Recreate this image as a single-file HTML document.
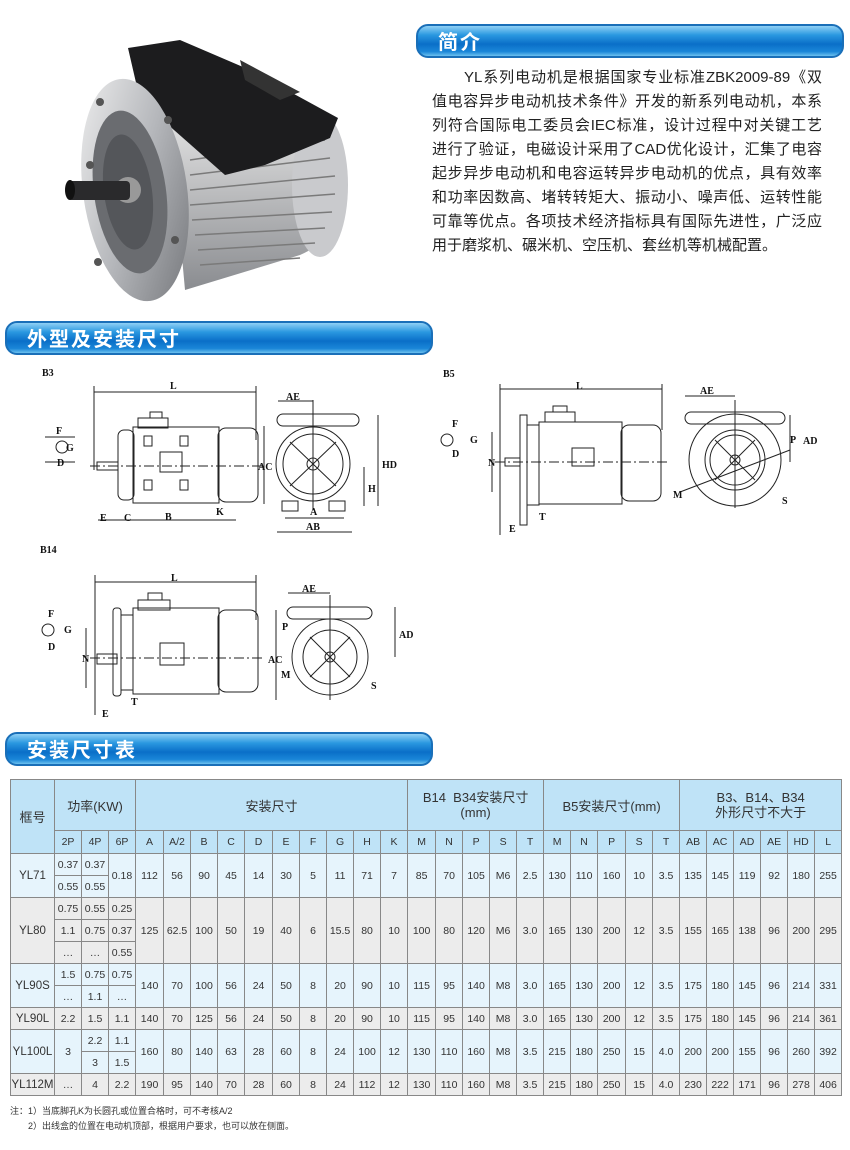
<!DOCTYPE html>
<html><head><meta charset="utf-8">
<style>
*{margin:0;padding:0;box-sizing:border-box}
body{width:850px;height:1150px;background:#fff;position:relative;overflow:hidden;font-family:"Liberation Sans","Noto Sans CJK SC",sans-serif;color:#222}
.bar{position:absolute;height:34px;border-radius:12px;border:2px solid #1a6fb8;background:linear-gradient(#8fd0f5 0%,#2a98e0 30%,#0a6fc8 60%,#1a86d8 85%,#6cc0ee 100%);color:#fff;font-weight:bold;font-size:20px;line-height:30px;padding-left:20px;letter-spacing:2px;font-family:"Noto Sans CJK SC",sans-serif}
.para{position:absolute;left:432px;top:66px;width:390px;font-size:15px;font-family:"Liberation Sans","Noto Sans CJK SC",sans-serif;color:#222}
.para div{height:24px;line-height:24px;text-align:justify;text-align-last:justify;white-space:nowrap}
table{position:absolute;left:10px;top:779px;border-collapse:collapse;table-layout:fixed;width:831px;font-size:10.5px;color:#333}
td{border:1px solid #888;text-align:center;padding:0;height:22px;white-space:nowrap}
tr.h1 td{height:51px;background:#bfe3f7;font-size:13px}
tr.h2 td{height:23px;background:#bfe3f7}
.l td{background:#e6f4fc}.g td{background:#ececec}
td.k{font-size:11.5px}
.note{position:absolute;left:10px;font-size:9px;color:#333}
svg text{font-family:"Liberation Serif",serif;font-weight:bold;font-size:10px}
</style></head><body>

<!-- motor photo -->
<svg style="position:absolute;left:0;top:0" width="410" height="320">
<defs>
<linearGradient id="sil" x1="0" y1="0" x2="1" y2="1"><stop offset="0" stop-color="#f2f2f2"/><stop offset="0.5" stop-color="#b5b7bb"/><stop offset="1" stop-color="#707276"/></linearGradient>
<linearGradient id="fin" x1="0" y1="0" x2="0" y2="1"><stop offset="0" stop-color="#e6e6e6"/><stop offset="1" stop-color="#8a8c90"/></linearGradient>
</defs>
<path d="M170 125 L320 110 Q350 150 345 200 Q335 240 300 255 L185 290 Z" fill="url(#fin)"/>
<ellipse cx="320" cy="185" rx="28" ry="72" fill="#c9cacd"/>
<g stroke="#7a7a7a" stroke-width="1.5">
<line x1="190" y1="160" x2="325" y2="140"/><line x1="190" y1="175" x2="330" y2="158"/><line x1="190" y1="190" x2="335" y2="176"/><line x1="190" y1="205" x2="335" y2="194"/><line x1="192" y1="220" x2="332" y2="212"/><line x1="195" y1="235" x2="325" y2="228"/><line x1="198" y1="250" x2="315" y2="243"/><line x1="200" y1="265" x2="300" y2="258"/></g>
<path d="M128 48 L180 40 L250 70 L338 118 L330 138 L265 165 L225 175 L140 100 Z" fill="#1c1c1e"/>
<path d="M240 60 L300 92 L280 100 L245 80 Z" fill="#333"/>
<ellipse cx="135" cy="190" rx="52" ry="112" fill="url(#sil)" transform="rotate(-8 135 190)"/>
<ellipse cx="130" cy="192" rx="36" ry="82" fill="#6a6c70" transform="rotate(-8 130 192)"/>
<ellipse cx="128" cy="192" rx="24" ry="58" fill="#54565a" transform="rotate(-8 128 192)"/>
<circle cx="128" cy="190" r="13" fill="#999"/>
<rect x="68" y="181" width="62" height="19" rx="4" fill="#2a2a2c"/>
<ellipse cx="70" cy="190" rx="5" ry="10" fill="#111"/>
<g fill="#555"><circle cx="100" cy="102" r="4"/><circle cx="90" cy="165" r="4"/><circle cx="98" cy="262" r="4"/><circle cx="168" cy="120" r="4"/><circle cx="175" cy="240" r="4"/></g>
</svg>

<div class="bar" style="left:416px;top:24px;width:428px">简介</div>
<div class="para">
<div style="padding-left:32px">YL系列电动机是根据国家专业标准ZBK2009-89《双</div>
<div>值电容异步电动机技术条件》开发的新系列电动机，本系</div>
<div>列符合国际电工委员会IEC标准，设计过程中对关键工艺</div>
<div>进行了验证，电磁设计采用了CAD优化设计，汇集了电容</div>
<div>起步异步电动机和电容运转异步电动机的优点，具有效率</div>
<div>和功率因数高、堵转转矩大、振动小、噪声低、运转性能</div>
<div>可靠等优点。各项技术经济指标具有国际先进性，广泛应</div>
<div style="text-align-last:left">用于磨浆机、碾米机、空压机、套丝机等机械配置。</div>
</div>

<div class="bar" style="left:5px;top:321px;width:428px">外型及安装尺寸</div>

<svg style="position:absolute;left:0;top:360px" width="850" height="370" fill="none" stroke="#222" stroke-width="1">
<!-- B3 -->
<text x="42" y="16" stroke="none" fill="#111" font-size="11">B3</text>
<line x1="94" y1="32" x2="256" y2="32"/><line x1="94" y1="26" x2="94" y2="110"/><line x1="256" y1="26" x2="256" y2="80"/>
<text x="170" y="29" stroke="none" fill="#111">L</text>
<rect x="118" y="70" width="16" height="70" rx="6"/><rect x="133" y="67" width="86" height="76"/><rect x="218" y="68" width="40" height="74" rx="8"/>
<rect x="138" y="58" width="30" height="10"/><rect x="150" y="52" width="12" height="6"/>
<rect x="97" y="102" width="21" height="8"/><rect x="160" y="92" width="22" height="20"/>
<rect x="144" y="76" width="8" height="10"/><rect x="180" y="76" width="8" height="10"/><rect x="144" y="120" width="8" height="10"/><rect x="180" y="120" width="8" height="10"/>
<line x1="90" y1="106" x2="265" y2="106" stroke-dasharray="10 3 2 3"/>
<line x1="98" y1="160" x2="236" y2="160"/>
<text x="100" y="161" stroke="none" fill="#111">E</text><text x="124" y="161" stroke="none" fill="#111">C</text><text x="165" y="160" stroke="none" fill="#111">B</text><text x="216" y="155" stroke="none" fill="#111">K</text>
<line x1="264" y1="66" x2="264" y2="144"/><text x="258" y="110" stroke="none" fill="#111">AC</text>
<circle cx="313" cy="104" r="37"/><circle cx="313" cy="104" r="30"/><circle cx="313" cy="104" r="6"/>
<line x1="290" y1="82" x2="336" y2="126"/><line x1="336" y1="82" x2="290" y2="126"/>
<rect x="277" y="54" width="82" height="12" rx="6"/><line x1="313" y1="40" x2="313" y2="150"/>
<rect x="282" y="141" width="16" height="10"/><rect x="329" y="141" width="16" height="10"/>
<line x1="278" y1="41" x2="313" y2="41"/><text x="286" y="40" stroke="none" fill="#111">AE</text>
<line x1="378" y1="55" x2="378" y2="146"/><text x="382" y="108" stroke="none" fill="#111">HD</text>
<line x1="364" y1="107" x2="364" y2="146"/><text x="368" y="132" stroke="none" fill="#111">H</text>
<line x1="285" y1="158" x2="344" y2="158"/><text x="310" y="155" stroke="none" fill="#111">A</text>
<line x1="277" y1="172" x2="352" y2="172"/><text x="306" y="170" stroke="none" fill="#111">AB</text>
<circle cx="62" cy="87" r="6"/><line x1="45" y1="77" x2="75" y2="77"/><line x1="45" y1="102" x2="75" y2="102"/>
<text x="56" y="74" stroke="none" fill="#111">F</text><text x="66" y="91" stroke="none" fill="#111">G</text><text x="57" y="106" stroke="none" fill="#111">D</text>
<!-- B5 -->
<text x="443" y="17" stroke="none" fill="#111" font-size="11">B5</text>
<line x1="500" y1="29" x2="662" y2="29"/><line x1="500" y1="24" x2="500" y2="175"/><line x1="662" y1="24" x2="662" y2="70"/>
<text x="576" y="29" stroke="none" fill="#111">L</text>
<rect x="520" y="55" width="7" height="110"/><rect x="527" y="65" width="12" height="80"/><rect x="539" y="62" width="83" height="82"/><rect x="621" y="65" width="40" height="76" rx="8"/>
<rect x="545" y="52" width="30" height="10"/><rect x="553" y="46" width="14" height="6"/><rect x="505" y="98" width="15" height="8"/><rect x="572" y="88" width="22" height="18"/>
<line x1="495" y1="102" x2="670" y2="102" stroke-dasharray="10 3 2 3"/>
<line x1="492" y1="72" x2="492" y2="132"/><text x="488" y="106" stroke="none" fill="#111">N</text>
<text x="539" y="160" stroke="none" fill="#111">T</text><text x="509" y="172" stroke="none" fill="#111">E</text>
<circle cx="735" cy="100" r="46"/><circle cx="735" cy="100" r="30"/><circle cx="735" cy="100" r="25"/><circle cx="735" cy="100" r="5"/>
<line x1="715" y1="80" x2="755" y2="120"/><line x1="755" y1="80" x2="715" y2="120"/>
<rect x="685" y="52" width="100" height="12" rx="6"/><line x1="735" y1="40" x2="735" y2="148"/>
<line x1="685" y1="36" x2="735" y2="36"/><text x="700" y="34" stroke="none" fill="#111">AE</text>
<line x1="790" y1="55" x2="790" y2="102"/><text x="803" y="84" stroke="none" fill="#111">AD</text>
<line x1="680" y1="132" x2="790" y2="90"/><text x="790" y="83" stroke="none" fill="#111">P</text><text x="673" y="138" stroke="none" fill="#111">M</text><text x="782" y="144" stroke="none" fill="#111">S</text>
<circle cx="447" cy="80" r="6"/><text x="452" y="67" stroke="none" fill="#111">F</text><text x="470" y="83" stroke="none" fill="#111">G</text><text x="452" y="97" stroke="none" fill="#111">D</text>
<!-- B14 -->
<text x="40" y="193" stroke="none" fill="#111" font-size="11">B14</text>
<line x1="95" y1="222" x2="256" y2="222"/><line x1="95" y1="215" x2="95" y2="355"/><line x1="256" y1="215" x2="256" y2="260"/>
<text x="171" y="221" stroke="none" fill="#111">L</text>
<rect x="113" y="248" width="8" height="88" rx="3"/><rect x="121" y="255" width="12" height="75"/><rect x="133" y="248" width="86" height="86"/><rect x="218" y="250" width="40" height="82" rx="8"/>
<rect x="138" y="240" width="32" height="10"/><rect x="148" y="233" width="14" height="7"/><rect x="97" y="294" width="20" height="10"/><rect x="160" y="283" width="24" height="22"/>
<line x1="90" y1="298" x2="265" y2="298" stroke-dasharray="10 3 2 3"/>
<line x1="86" y1="268" x2="86" y2="328"/><text x="82" y="302" stroke="none" fill="#111">N</text>
<line x1="276" y1="250" x2="276" y2="340"/><text x="268" y="303" stroke="none" fill="#111">AC</text>
<text x="131" y="345" stroke="none" fill="#111">T</text><text x="102" y="357" stroke="none" fill="#111">E</text>
<circle cx="330" cy="297" r="38"/><circle cx="330" cy="297" r="27"/><circle cx="330" cy="297" r="5"/>
<line x1="310" y1="277" x2="350" y2="317"/><line x1="350" y1="277" x2="310" y2="317"/>
<rect x="287" y="247" width="85" height="12" rx="6"/><line x1="330" y1="235" x2="330" y2="340"/>
<line x1="288" y1="233" x2="330" y2="233"/><text x="302" y="232" stroke="none" fill="#111">AE</text>
<line x1="395" y1="247" x2="395" y2="297"/><text x="399" y="278" stroke="none" fill="#111">AD</text>
<text x="282" y="270" stroke="none" fill="#111">P</text><text x="281" y="318" stroke="none" fill="#111">M</text><text x="371" y="329" stroke="none" fill="#111">S</text>
<circle cx="48" cy="270" r="6"/><text x="48" y="257" stroke="none" fill="#111">F</text><text x="64" y="273" stroke="none" fill="#111">G</text><text x="48" y="290" stroke="none" fill="#111">D</text>
</svg>

<div class="bar" style="left:5px;top:732px;width:428px">安装尺寸表</div>

<table>
<colgroup><col style="width:44px"><col style="width:27px"><col style="width:27px"><col style="width:27px">
<col style="width:28px"><col style="width:27px"><col style="width:27px"><col style="width:27px"><col style="width:28px"><col style="width:27px"><col style="width:27px"><col style="width:27px"><col style="width:27px"><col style="width:27px">
<col style="width:28px"><col style="width:27px"><col style="width:27px"><col style="width:27px"><col style="width:27px">
<col style="width:27px"><col style="width:27px"><col style="width:28px"><col style="width:27px"><col style="width:27px">
<col style="width:27px"><col style="width:27px"><col style="width:27px"><col style="width:27px"><col style="width:27px"><col style="width:27px"></colgroup>
<tr class="h1"><td rowspan="2">框号</td><td colspan="3">功率(KW)</td><td colspan="10">安装尺寸</td><td colspan="5" style="line-height:15px">B14&nbsp; B34安装尺寸<br>(mm)</td><td colspan="5">B5安装尺寸(mm)</td><td colspan="6" style="line-height:15px">B3、B14、B34<br>外形尺寸不大于</td></tr>
<tr class="h2"><td>2P</td><td>4P</td><td>6P</td><td>A</td><td>A/2</td><td>B</td><td>C</td><td>D</td><td>E</td><td>F</td><td>G</td><td>H</td><td>K</td><td>M</td><td>N</td><td>P</td><td>S</td><td>T</td><td>M</td><td>N</td><td>P</td><td>S</td><td>T</td><td>AB</td><td>AC</td><td>AD</td><td>AE</td><td>HD</td><td>L</td></tr>
<tr class="l"><td rowspan="2" class="k">YL71</td><td>0.37</td><td>0.37</td><td rowspan="2">0.18</td><td rowspan="2">112</td><td rowspan="2">56</td><td rowspan="2">90</td><td rowspan="2">45</td><td rowspan="2">14</td><td rowspan="2">30</td><td rowspan="2">5</td><td rowspan="2">11</td><td rowspan="2">71</td><td rowspan="2">7</td><td rowspan="2">85</td><td rowspan="2">70</td><td rowspan="2">105</td><td rowspan="2">M6</td><td rowspan="2">2.5</td><td rowspan="2">130</td><td rowspan="2">110</td><td rowspan="2">160</td><td rowspan="2">10</td><td rowspan="2">3.5</td><td rowspan="2">135</td><td rowspan="2">145</td><td rowspan="2">119</td><td rowspan="2">92</td><td rowspan="2">180</td><td rowspan="2">255</td></tr>
<tr class="l"><td>0.55</td><td>0.55</td></tr>
<tr class="g"><td rowspan="3" class="k">YL80</td><td>0.75</td><td>0.55</td><td>0.25</td><td rowspan="3">125</td><td rowspan="3">62.5</td><td rowspan="3">100</td><td rowspan="3">50</td><td rowspan="3">19</td><td rowspan="3">40</td><td rowspan="3">6</td><td rowspan="3">15.5</td><td rowspan="3">80</td><td rowspan="3">10</td><td rowspan="3">100</td><td rowspan="3">80</td><td rowspan="3">120</td><td rowspan="3">M6</td><td rowspan="3">3.0</td><td rowspan="3">165</td><td rowspan="3">130</td><td rowspan="3">200</td><td rowspan="3">12</td><td rowspan="3">3.5</td><td rowspan="3">155</td><td rowspan="3">165</td><td rowspan="3">138</td><td rowspan="3">96</td><td rowspan="3">200</td><td rowspan="3">295</td></tr>
<tr class="g"><td>1.1</td><td>0.75</td><td>0.37</td></tr>
<tr class="g"><td>…</td><td>…</td><td>0.55</td></tr>
<tr class="l"><td rowspan="2" class="k">YL90S</td><td>1.5</td><td>0.75</td><td>0.75</td><td rowspan="2">140</td><td rowspan="2">70</td><td rowspan="2">100</td><td rowspan="2">56</td><td rowspan="2">24</td><td rowspan="2">50</td><td rowspan="2">8</td><td rowspan="2">20</td><td rowspan="2">90</td><td rowspan="2">10</td><td rowspan="2">115</td><td rowspan="2">95</td><td rowspan="2">140</td><td rowspan="2">M8</td><td rowspan="2">3.0</td><td rowspan="2">165</td><td rowspan="2">130</td><td rowspan="2">200</td><td rowspan="2">12</td><td rowspan="2">3.5</td><td rowspan="2">175</td><td rowspan="2">180</td><td rowspan="2">145</td><td rowspan="2">96</td><td rowspan="2">214</td><td rowspan="2">331</td></tr>
<tr class="l"><td>…</td><td>1.1</td><td>…</td></tr>
<tr class="g"><td class="k">YL90L</td><td>2.2</td><td>1.5</td><td>1.1</td><td>140</td><td>70</td><td>125</td><td>56</td><td>24</td><td>50</td><td>8</td><td>20</td><td>90</td><td>10</td><td>115</td><td>95</td><td>140</td><td>M8</td><td>3.0</td><td>165</td><td>130</td><td>200</td><td>12</td><td>3.5</td><td>175</td><td>180</td><td>145</td><td>96</td><td>214</td><td>361</td></tr>
<tr class="l"><td rowspan="2" class="k">YL100L</td><td rowspan="2">3</td><td>2.2</td><td>1.1</td><td rowspan="2">160</td><td rowspan="2">80</td><td rowspan="2">140</td><td rowspan="2">63</td><td rowspan="2">28</td><td rowspan="2">60</td><td rowspan="2">8</td><td rowspan="2">24</td><td rowspan="2">100</td><td rowspan="2">12</td><td rowspan="2">130</td><td rowspan="2">110</td><td rowspan="2">160</td><td rowspan="2">M8</td><td rowspan="2">3.5</td><td rowspan="2">215</td><td rowspan="2">180</td><td rowspan="2">250</td><td rowspan="2">15</td><td rowspan="2">4.0</td><td rowspan="2">200</td><td rowspan="2">200</td><td rowspan="2">155</td><td rowspan="2">96</td><td rowspan="2">260</td><td rowspan="2">392</td></tr>
<tr class="l"><td>3</td><td>1.5</td></tr>
<tr class="g"><td class="k">YL112M</td><td>…</td><td>4</td><td>2.2</td><td>190</td><td>95</td><td>140</td><td>70</td><td>28</td><td>60</td><td>8</td><td>24</td><td>112</td><td>12</td><td>130</td><td>110</td><td>160</td><td>M8</td><td>3.5</td><td>215</td><td>180</td><td>250</td><td>15</td><td>4.0</td><td>230</td><td>222</td><td>171</td><td>96</td><td>278</td><td>406</td></tr>
</table>

<div class="note" style="top:1104px">注：1）当底脚孔K为长圆孔或位置合格时，可不考核A/2</div>
<div class="note" style="top:1119px;left:28px">2）出线盒的位置在电动机顶部，根据用户要求，也可以放在侧面。</div>
</body></html>
